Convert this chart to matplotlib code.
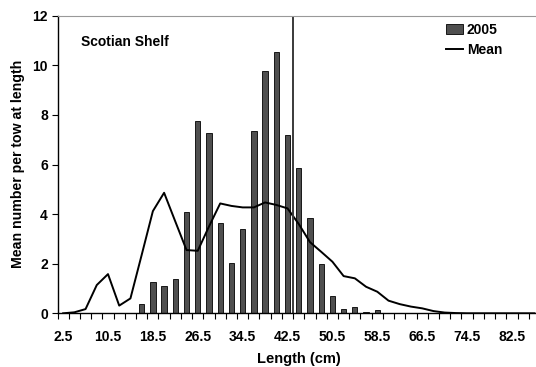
import numpy as np
import matplotlib.pyplot as plt

plt.rcParams["font.family"] = ["Liberation Sans", "DejaVu Sans"]
plt.rcParams["font.weight"] = "bold"

# length classes (cm), one every 2 cm
lengths = [2.5 + 2 * i for i in range(43)]
labels = [f"{v:.1f}" if i % 4 == 0 else "" for i, v in enumerate(lengths)]

# 2005 mean number per tow at length (bars)
y2005 = [0, 0, 0, 0, 0, 0, 0.03, 0.37, 1.26, 1.11, 1.38, 4.08, 7.77, 7.26,
         3.64, 2.01, 3.39, 7.35, 9.77, 10.52, 7.19, 5.86, 3.86, 1.97, 0.70,
         0.19, 0.24, 0.04, 0.12, 0, 0, 0, 0, 0, 0, 0, 0, 0, 0, 0, 0, 0, 0]

# long-term mean (line)
mean = [0, 0.04, 0.17, 1.14, 1.58, 0.31, 0.6, 2.35, 4.12, 4.86, 3.7, 2.55,
        2.52, 3.5, 4.43, 4.33, 4.27, 4.27, 4.47, 4.37, 4.23, 3.6, 2.87, 2.48,
        2.08, 1.5, 1.41, 1.07, 0.87, 0.51, 0.37, 0.27, 0.2, 0.09, 0.03, 0.01,
        0, 0, 0, 0, 0, 0, 0]

cutoff = 43.5  # cm, vertical reference line

x = np.arange(len(lengths))

fig = plt.figure(figsize=(5.36, 3.67), dpi=100)
ax = fig.add_axes([57.5 / 536, 1 - 313.3 / 367, 482.5 / 536, (313.3 - 15.7) / 367])

bars = ax.bar(x, y2005, width=0.47, color="#4f4f4f", edgecolor="black", linewidth=0.6, label="2005")
line, = ax.plot(x, mean, color="black", linewidth=1.4, label="Mean")
ax.axvline((cutoff - lengths[0]) / 2, color="#3a3a3a", linewidth=1.4)

ax.set_xlim(-0.5, len(lengths) - 0.5)
ax.set_ylim(0, 12)
ax.set_yticks(range(0, 13, 2))
ax.set_xticks(x)
ax.set_xticklabels(labels)
ax.set_xticks(np.arange(-0.5, len(lengths), 1), minor=True)
ax.tick_params(axis="x", which="major", length=0, labelsize=10, pad=12)
ax.tick_params(axis="x", which="minor", length=4, width=0.8)
ax.tick_params(axis="y", length=4, width=0.8, labelsize=10, pad=3)

for s in ["top", "right"]:
    ax.spines[s].set_color("#999999")
ax.spines["left"].set_linewidth(1.0)
ax.spines["bottom"].set_linewidth(1.0)

ax.set_xlabel("Length (cm)", fontsize=10.5, fontweight="bold", labelpad=6)
fig.text(17.7 / 536, 1 - 164 / 367, "Mean number per tow at length",
         rotation=90, ha="center", va="center", fontsize=10.2, fontweight="bold")

ax.text(81 / 536, 1 - 42 / 367, "Scotian Shelf", transform=fig.transFigure,
        fontsize=10, fontweight="bold", va="center")

ax.legend([bars, line], ["2005", "Mean"], loc="upper left",
          bbox_to_anchor=(446 / 536, 1 - 23 / 367),
          bbox_transform=fig.transFigure, frameon=False, fontsize=10,
          handlelength=1.25, handletextpad=0.25, labelspacing=0.45,
          borderaxespad=0, borderpad=0)

fig.savefig("out.png", dpi=100)
